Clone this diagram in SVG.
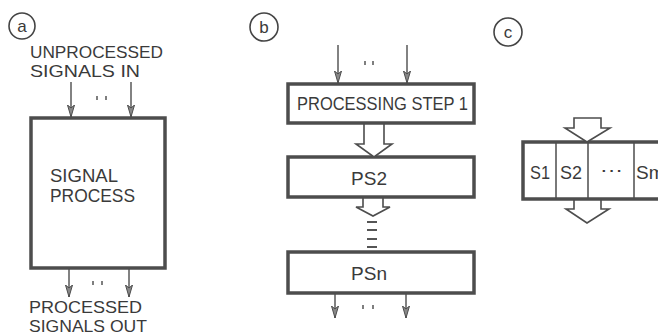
<svg xmlns="http://www.w3.org/2000/svg" width="658" height="335" viewBox="0 0 658 335">
<style>
text{font-family:"Liberation Sans",Arial,sans-serif;fill:#3a3a3a;font-size:19px}
.stack{font-size:16.5px}
.lbl{font-size:17px;text-anchor:middle}
.box{fill:#fff;stroke:#4d4d4d;stroke-width:3.5}
.cell{stroke:#4d4d4d;stroke-width:1.5}
.ring{fill:none;stroke:#444;stroke-width:1.6}
.thin{stroke:#4d4d4d;stroke-width:1.4;fill:none}
.hollow{fill:#fff;stroke:#4d4d4d;stroke-width:1.6;stroke-linejoin:miter}
.dash{stroke:#555;stroke-width:2}
.dot{stroke:#555;stroke-width:1.5}
</style>
<defs>
<marker id="ah" viewBox="0 0 12 8" refX="12" refY="4" markerWidth="12" markerHeight="8" markerUnits="userSpaceOnUse" orient="auto">
<path d="M0,0.5 L12,4 L0,7.5 L3,4 Z" fill="#888" stroke="#4d4d4d" stroke-width="1"/>
</marker>
</defs>
<rect width="658" height="335" fill="#fff"/>

<g id="label-a"><circle class="ring" cx="22" cy="26" r="13"/><text class="lbl" x="22" y="32">a</text></g>
<g id="label-b"><circle class="ring" cx="264" cy="27" r="14"/><text class="lbl" x="264" y="33">b</text></g>
<g id="label-c"><circle class="ring" cx="508" cy="32" r="14"/><text class="lbl" x="508" y="38">c</text></g>

<g id="text-in">
<text class="stack" x="30" y="58" textLength="133" lengthAdjust="spacingAndGlyphs">UNPROCESSED</text>
<text class="stack" x="30" y="77" textLength="110" lengthAdjust="spacingAndGlyphs">SIGNALS IN</text>
</g>
<g id="text-out">
<text class="stack" x="29" y="312.5" textLength="113" lengthAdjust="spacingAndGlyphs">PROCESSED</text>
<text class="stack" x="29" y="331.5" textLength="118" lengthAdjust="spacingAndGlyphs">SIGNALS OUT</text>
</g>

<g id="signal-process">
<rect class="box" x="31" y="118" width="134" height="150"/>
<text x="50" y="182" textLength="68" lengthAdjust="spacingAndGlyphs">SIGNAL</text>
<text x="50" y="202" textLength="85" lengthAdjust="spacingAndGlyphs">PROCESS</text>
</g>

<g id="ps1">
<rect class="box" x="288" y="84" width="186" height="39"/>
<text x="297" y="110" textLength="171" lengthAdjust="spacingAndGlyphs">PROCESSING STEP 1</text>
</g>
<g id="ps2">
<rect class="box" x="288" y="157" width="186" height="40"/>
<text x="351" y="185" textLength="36" lengthAdjust="spacingAndGlyphs">PS2</text>
</g>
<g id="psn">
<rect class="box" x="288" y="252" width="186" height="41"/>
<text x="351" y="280" textLength="36" lengthAdjust="spacingAndGlyphs">PSn</text>
</g>

<g id="steps">
<rect class="box" x="523" y="142" width="145" height="57"/>
<line class="cell" x1="556" y1="142" x2="556" y2="199"/>
<line class="cell" x1="588" y1="142" x2="588" y2="199"/>
<line class="cell" x1="634" y1="142" x2="634" y2="199"/>
<text x="530" y="179" textLength="20" lengthAdjust="spacingAndGlyphs">S1</text>
<text x="560" y="179" textLength="22" lengthAdjust="spacingAndGlyphs">S2</text>
<text x="600" y="176" textLength="23" lengthAdjust="spacingAndGlyphs">···</text>
<text x="636" y="179">Sm</text>
</g>

<g id="connectors">
<line class="thin" x1="71" y1="82" x2="71" y2="117" marker-end="url(#ah)"/>
<line class="thin" x1="131" y1="82" x2="131" y2="117" marker-end="url(#ah)"/>
<line class="thin" x1="69" y1="269" x2="69" y2="297" marker-end="url(#ah)"/>
<line class="thin" x1="129" y1="269" x2="129" y2="297" marker-end="url(#ah)"/>
<line class="thin" x1="338" y1="45" x2="338" y2="83" marker-end="url(#ah)"/>
<line class="thin" x1="407" y1="45" x2="407" y2="83" marker-end="url(#ah)"/>
<line class="thin" x1="335" y1="294" x2="335" y2="318" marker-end="url(#ah)"/>
<line class="thin" x1="406" y1="294" x2="406" y2="318" marker-end="url(#ah)"/>
<polygon class="hollow" points="364,124 364,144 356,144 374,157 392,144 384,144 384,124"/>
<polygon class="hollow" points="363,198 363,207 356,207 373,216 390,207 383,207 383,198"/>
<polygon class="hollow" points="574,118 574,128 565,128 587,142 610,128 601,128 601,118"/>
<polygon class="hollow" points="574,200 574,209 566,209 587,223 609,209 601,209 601,200"/>
<line class="dash" x1="367" y1="222" x2="377" y2="222"/>
<line class="dash" x1="367" y1="230" x2="377" y2="230"/>
<line class="dash" x1="367" y1="239" x2="377" y2="239"/>
<line class="dash" x1="367" y1="247" x2="377" y2="247"/>
</g>

<g id="ellipses">
<line class="dot" x1="97" y1="96" x2="97" y2="100"/>
<line class="dot" x1="106" y1="96" x2="106" y2="100"/>
<line class="dot" x1="93" y1="281" x2="93" y2="285"/>
<line class="dot" x1="102" y1="281" x2="102" y2="285"/>
<line class="dot" x1="365" y1="61" x2="365" y2="65"/>
<line class="dot" x1="373" y1="61" x2="373" y2="65"/>
<line class="dot" x1="363" y1="305" x2="363" y2="309"/>
<line class="dot" x1="373" y1="305" x2="373" y2="309"/>
</g>
</svg>
